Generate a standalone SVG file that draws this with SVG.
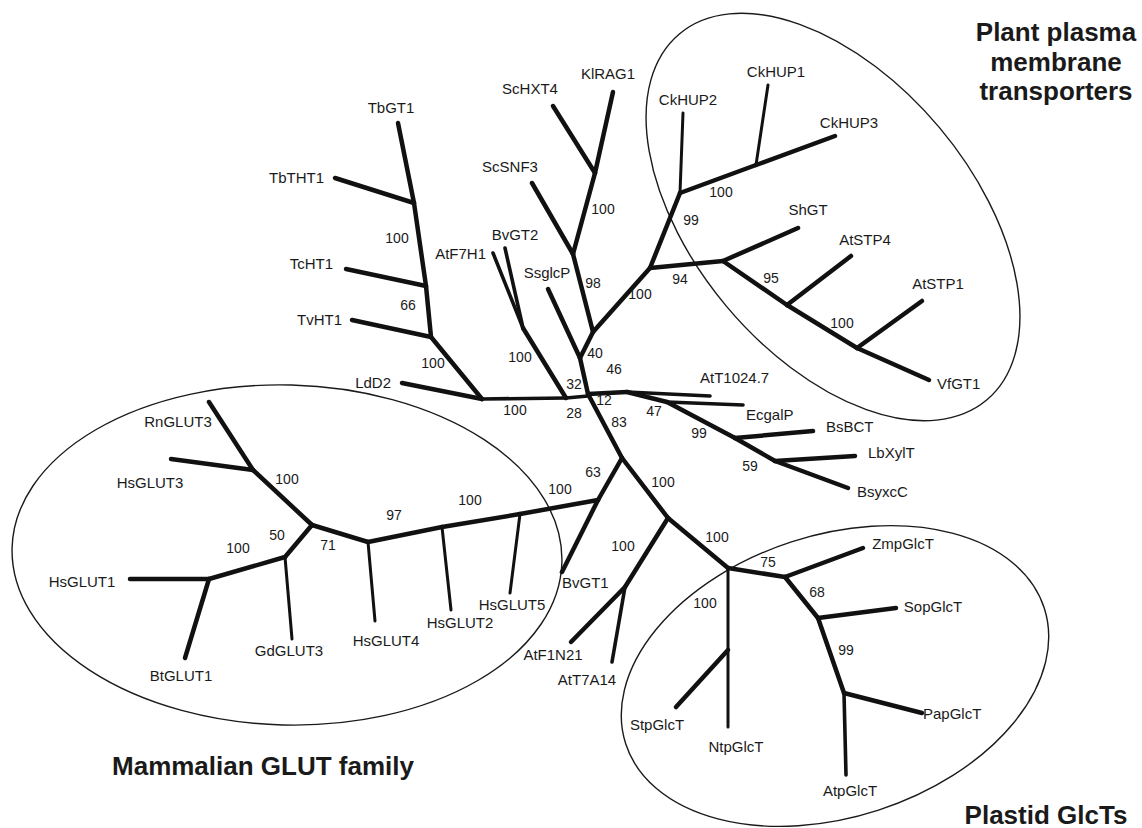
<svg xmlns="http://www.w3.org/2000/svg" width="1142" height="828" viewBox="0 0 1142 828">
<style>
.e{fill:none;stroke:#1a1a1a;stroke-width:1.4}
.b{stroke:#111;stroke-width:4.5;stroke-linecap:round;fill:none}
.t{stroke:#111;stroke-width:3;stroke-linecap:round;fill:none}
.m{stroke:#111;stroke-width:3.6;stroke-linecap:round;fill:none}
text{font-family:"Liberation Sans",Arial,Helvetica,sans-serif;fill:#1a1a1a}
.l{font-size:15px}
.n{font-size:14px;text-anchor:middle}
.c{text-anchor:middle}
.r{text-anchor:end}
.h{font-size:26px;font-weight:bold;text-anchor:middle}
</style>
<rect width="1142" height="828" fill="#fff"/>
<g id="groups">
<ellipse id="plant-group" class="e" cx="0" cy="0" rx="239" ry="139" transform="translate(833 217) rotate(50)"/>
<ellipse id="glut-group" class="e" cx="0" cy="0" rx="275" ry="170" transform="translate(287 555) rotate(1.5)"/>
<ellipse id="plastid-group" class="e" cx="0" cy="0" rx="220" ry="141" transform="translate(835 676) rotate(-18)"/>
</g>
<g id="connectors">
<!-- left trypanosomatid cluster -->
<line class="b" x1="398" y1="123" x2="414" y2="203"/>
<line class="b" x1="335" y1="178" x2="414" y2="203"/>
<line class="b" x1="414" y1="203" x2="426" y2="286"/>
<line class="b" x1="346" y1="269" x2="426" y2="286"/>
<line class="b" x1="426" y1="286" x2="431" y2="337"/>
<line class="b" x1="352" y1="320" x2="431" y2="337"/>
<line class="b" x1="431" y1="337" x2="482" y2="399"/>
<line class="b" x1="402" y1="383" x2="482" y2="399"/>
<line class="m" x1="482" y1="399" x2="566" y2="398"/>
<line class="m" x1="566" y1="398" x2="588" y2="396"/>
<!-- AtF7H1 / BvGT2 -->
<line class="b" x1="566" y1="398" x2="523" y2="328"/>
<line class="m" x1="523" y1="328" x2="493" y2="253"/>
<line class="m" x1="523" y1="328" x2="505" y2="248"/>
<!-- central upward -->
<line class="b" x1="588" y1="394" x2="580" y2="358"/>
<line class="b" x1="580" y1="358" x2="548" y2="289"/>
<line class="b" x1="580" y1="358" x2="593" y2="332"/>
<line class="b" x1="593" y1="332" x2="573" y2="254"/>
<line class="b" x1="573" y1="254" x2="532" y2="183"/>
<line class="b" x1="573" y1="254" x2="595" y2="173"/>
<line class="b" x1="595" y1="173" x2="553" y2="106"/>
<line class="b" x1="595" y1="173" x2="613" y2="92"/>
<!-- plant plasma membrane -->
<line class="b" x1="593" y1="332" x2="650" y2="268"/>
<line class="b" x1="650" y1="268" x2="680" y2="193"/>
<line class="t" x1="680" y1="193" x2="683" y2="113"/>
<line class="b" x1="680" y1="193" x2="756" y2="165"/>
<line class="t" x1="756" y1="165" x2="768" y2="85"/>
<line class="b" x1="756" y1="165" x2="835" y2="136"/>
<line class="b" x1="650" y1="268" x2="723" y2="261"/>
<line class="b" x1="723" y1="261" x2="798" y2="228"/>
<line class="b" x1="723" y1="261" x2="787" y2="305"/>
<line class="b" x1="787" y1="305" x2="851" y2="256"/>
<line class="b" x1="787" y1="305" x2="857" y2="348"/>
<line class="b" x1="857" y1="348" x2="922" y2="301"/>
<line class="b" x1="857" y1="348" x2="929" y2="380"/>
<!-- bacterial cluster -->
<line class="b" x1="588" y1="394" x2="627" y2="392"/>
<line class="m" x1="627" y1="392" x2="710" y2="396"/>
<line class="b" x1="627" y1="392" x2="667" y2="402"/>
<line class="m" x1="667" y1="402" x2="743" y2="405"/>
<line class="b" x1="667" y1="402" x2="735" y2="438"/>
<line class="b" x1="735" y1="438" x2="813" y2="431"/>
<line class="b" x1="735" y1="438" x2="775" y2="461"/>
<line class="b" x1="775" y1="461" x2="855" y2="456"/>
<line class="b" x1="775" y1="461" x2="848" y2="488"/>
<!-- downward -->
<line class="b" x1="588" y1="394" x2="622" y2="458"/>
<line class="b" x1="622" y1="458" x2="598" y2="500"/>
<line class="b" x1="598" y1="500" x2="562" y2="572"/>
<line class="b" x1="622" y1="458" x2="668" y2="518"/>
<line class="b" x1="668" y1="518" x2="625" y2="587"/>
<line class="b" x1="625" y1="587" x2="571" y2="642"/>
<line class="m" x1="625" y1="587" x2="612" y2="662"/>
<line class="b" x1="668" y1="518" x2="728" y2="568"/>
<!-- GLUT family -->
<line class="b" x1="598" y1="500" x2="520" y2="514"/>
<line class="b" x1="520" y1="514" x2="442" y2="527"/>
<line class="b" x1="442" y1="527" x2="368" y2="542"/>
<line class="b" x1="368" y1="542" x2="312" y2="525"/>
<line class="b" x1="312" y1="525" x2="253" y2="470"/>
<line class="b" x1="253" y1="470" x2="209" y2="402"/>
<line class="b" x1="253" y1="470" x2="171" y2="459"/>
<line class="b" x1="312" y1="525" x2="285" y2="557"/>
<line class="t" x1="285" y1="557" x2="292" y2="639"/>
<line class="b" x1="285" y1="557" x2="209" y2="579"/>
<line class="b" x1="209" y1="579" x2="130" y2="579"/>
<line class="b" x1="209" y1="579" x2="185" y2="658"/>
<line class="t" x1="368" y1="542" x2="375" y2="621"/>
<line class="t" x1="442" y1="527" x2="451" y2="610"/>
<line class="t" x1="520" y1="514" x2="510" y2="593"/>
<!-- plastid -->
<line class="t" x1="728" y1="568" x2="728" y2="727"/>
<line class="b" x1="728" y1="650" x2="676" y2="707"/>
<line class="b" x1="728" y1="568" x2="785" y2="577"/>
<line class="b" x1="785" y1="577" x2="863" y2="548"/>
<line class="b" x1="785" y1="577" x2="818" y2="618"/>
<line class="b" x1="818" y1="618" x2="896" y2="608"/>
<line class="b" x1="818" y1="618" x2="844" y2="693"/>
<line class="b" x1="844" y1="693" x2="922" y2="713"/>
<line class="m" x1="844" y1="693" x2="846" y2="775"/>
</g>
<g id="leaves" class="l">
<g id="TbGT1"><text class="c" x="391" y="113">TbGT1</text></g>
<g id="TbTHT1"><text class="r" x="324" y="183">TbTHT1</text></g>
<g id="TcHT1"><text class="r" x="333" y="269">TcHT1</text></g>
<g id="TvHT1"><text class="r" x="342" y="325">TvHT1</text></g>
<g id="LdD2"><text class="r" x="391" y="388">LdD2</text></g>
<g id="AtF7H1"><text class="r" x="486" y="259">AtF7H1</text></g>
<g id="BvGT2"><text class="c" x="515" y="240">BvGT2</text></g>
<g id="SsglcP"><text class="c" x="547" y="278">SsglcP</text></g>
<g id="ScSNF3"><text class="c" x="510" y="172">ScSNF3</text></g>
<g id="ScHXT4"><text class="c" x="530" y="94">ScHXT4</text></g>
<g id="KlRAG1"><text class="c" x="608" y="79">KlRAG1</text></g>
<g id="CkHUP2"><text class="c" x="688" y="105">CkHUP2</text></g>
<g id="CkHUP1"><text class="c" x="776" y="77">CkHUP1</text></g>
<g id="CkHUP3"><text class="c" x="849" y="128">CkHUP3</text></g>
<g id="ShGT"><text class="c" x="808" y="215">ShGT</text></g>
<g id="AtSTP4"><text class="c" x="865" y="245">AtSTP4</text></g>
<g id="AtSTP1"><text class="c" x="938" y="289">AtSTP1</text></g>
<g id="VfGT1"><text x="937" y="389">VfGT1</text></g>
<g id="AtT1024.7"><text x="700" y="383">AtT1024.7</text></g>
<g id="EcgalP"><text x="746" y="420">EcgalP</text></g>
<g id="BsBCT"><text x="826" y="432">BsBCT</text></g>
<g id="LbXylT"><text x="868" y="458">LbXylT</text></g>
<g id="BsyxcC"><text x="857" y="497">BsyxcC</text></g>
<g id="BvGT1"><text x="562" y="588">BvGT1</text></g>
<g id="AtF1N21"><text class="c" x="553" y="660">AtF1N21</text></g>
<g id="AtT7A14"><text class="c" x="587" y="685">AtT7A14</text></g>
<g id="HsGLUT5"><text class="c" x="512" y="610">HsGLUT5</text></g>
<g id="HsGLUT2"><text class="c" x="460" y="628">HsGLUT2</text></g>
<g id="HsGLUT4"><text class="c" x="386" y="646">HsGLUT4</text></g>
<g id="GdGLUT3"><text class="c" x="289" y="656">GdGLUT3</text></g>
<g id="BtGLUT1"><text class="c" x="181" y="681">BtGLUT1</text></g>
<g id="HsGLUT1"><text class="c" x="82" y="587">HsGLUT1</text></g>
<g id="HsGLUT3"><text class="c" x="150" y="488">HsGLUT3</text></g>
<g id="RnGLUT3"><text class="c" x="178" y="427">RnGLUT3</text></g>
<g id="ZmpGlcT"><text class="c" x="903" y="549">ZmpGlcT</text></g>
<g id="SopGlcT"><text class="c" x="933" y="612">SopGlcT</text></g>
<g id="PapGlcT"><text x="923" y="719">PapGlcT</text></g>
<g id="AtpGlcT"><text class="c" x="850" y="796">AtpGlcT</text></g>
<g id="NtpGlcT"><text class="c" x="736" y="752">NtpGlcT</text></g>
<g id="StpGlcT"><text class="c" x="657" y="730">StpGlcT</text></g>
</g>
<g id="bootstrap" class="n">
<text x="397" y="243">100</text>
<text x="408" y="310">66</text>
<text x="433" y="368">100</text>
<text x="515" y="415">100</text>
<text x="520" y="362">100</text>
<text x="574" y="389">32</text>
<text x="574" y="418">28</text>
<text x="604" y="405">12</text>
<text x="595" y="358">40</text>
<text x="614" y="374">46</text>
<text x="619" y="427">83</text>
<text x="593" y="288">98</text>
<text x="603" y="214">100</text>
<text x="640" y="299">100</text>
<text x="691" y="225">99</text>
<text x="721" y="197">100</text>
<text x="680" y="284">94</text>
<text x="771" y="283">95</text>
<text x="842" y="328">100</text>
<text x="654" y="416">47</text>
<text x="699" y="438">99</text>
<text x="750" y="471">59</text>
<text x="593" y="477">63</text>
<text x="663" y="487">100</text>
<text x="560" y="494">100</text>
<text x="470" y="505">100</text>
<text x="394" y="520">97</text>
<text x="328" y="550">71</text>
<text x="277" y="540">50</text>
<text x="238" y="553">100</text>
<text x="287" y="484">100</text>
<text x="623" y="551">100</text>
<text x="717" y="542">100</text>
<text x="768" y="567">75</text>
<text x="817" y="597">68</text>
<text x="846" y="655">99</text>
<text x="705" y="608">100</text>
</g>
<g id="titles" class="h">
<g id="title-plant"><text x="1056" y="41">Plant plasma</text><text x="1056" y="71">membrane</text><text x="1056" y="100">transporters</text></g>
<g id="title-glut"><text x="263" y="775">Mammalian GLUT family</text></g>
<g id="title-plastid"><text x="1046" y="824">Plastid GlcTs</text></g>
</g>
</svg>
